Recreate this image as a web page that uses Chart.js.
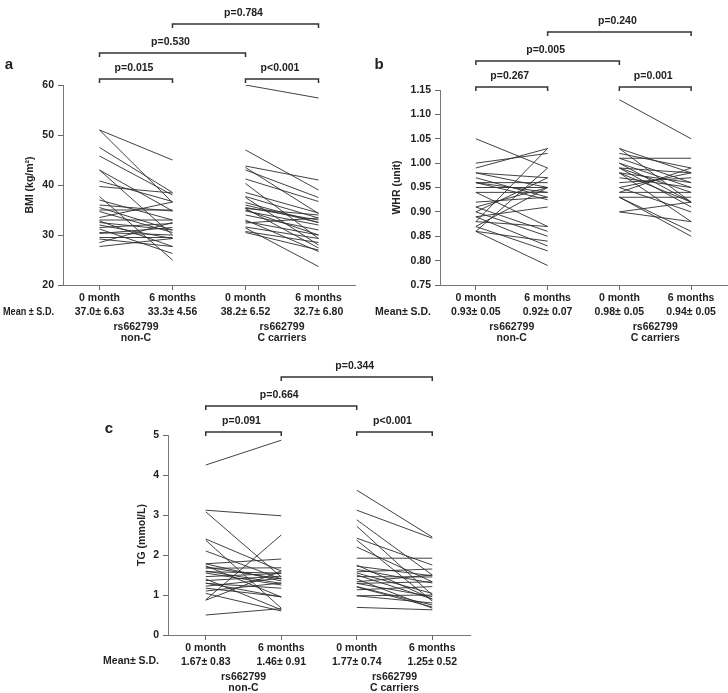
<!DOCTYPE html>
<html>
<head>
<meta charset="utf-8">
<script src="https://cdn.jsdelivr.net/npm/chart.js@4.4.1/dist/chart.umd.min.js"></script>
<style>
  html, body { margin: 0; padding: 0; background: #fff; }
  body { width: 728px; height: 693px; position: relative; overflow: hidden; }
  canvas { position: absolute; }
</style>
</head>
<body>
<canvas id="chartA" width="364" height="350" style="left:0px;top:0px"></canvas>
<canvas id="chartB" width="364" height="350" style="left:364px;top:0px"></canvas>
<canvas id="chartC" width="420" height="353" style="left:60px;top:340px"></canvas>
<script>
// x positions of the four columns
const xCols = [1, 2, 3, 4];
const timeLabels = ['0 month', '6 months', '0 month', '6 months'];
const groupLabels = [['rs662799', 'non-C'], ['rs662799', 'C carriers']];

// ---- panel a: BMI ----
const bmiTicks = [20, 30, 40, 50, 60];
const bmiMeans = ['37.0\u00b1 6.63', '33.3\u00b1 4.56', '38.2\u00b1 6.52', '32.7\u00b1 6.80'];
const bmiNonC0 = [51.0, 51.0, 47.5, 45.8, 43.0, 43.0, 40.8, 39.7, 37.7, 37.0, 36.0, 35.0, 34.7, 33.5,
                  33.0, 32.5, 32.0, 31.5, 31.2, 30.5, 30.3, 29.5, 29.2, 28.5, 27.7, 35.5, 32.8];
const bmiNonC6 = [45.0, 36.5, 38.5, 38.0, 34.8, 30.0, 36.7, 38.4, 25.0, 33.0, 34.8, 35.0, 30.5, 36.6,
                  33.0, 31.0, 29.3, 32.3, 26.3, 30.0, 31.5, 29.5, 27.7, 32.5, 29.3, 31.0, 27.7];
const bmiCar0 = [60.0, 47.0, 43.8, 43.5, 43.0, 41.2, 40.3, 37.7, 37.5, 36.0, 35.5, 35.3, 35.0, 35.3,
                 34.8, 34.0, 33.0, 32.7, 32.4, 31.6, 31.4, 30.7, 30.5, 36.5, 38.5];
const bmiCar6 = [57.4, 39.0, 41.0, 34.3, 37.5, 36.7, 29.3, 33.4, 28.0, 32.5, 33.0, 34.0, 30.0, 27.4,
                 32.0, 31.0, 26.7, 30.0, 33.4, 29.3, 23.7, 28.5, 27.0, 32.5, 34.4];

// ---- panel b: WHR ----
const whrTicks = [0.75, 0.80, 0.85, 0.90, 0.95, 1.00, 1.05, 1.10, 1.15];
const whrMeans = ['0.93\u00b1 0.05', '0.92\u00b1 0.07', '0.98\u00b1 0.05', '0.94\u00b1 0.05'];
const whrNonC0 = [1.05, 1.00, 0.99, 0.98, 0.98, 0.97, 0.96, 0.96, 0.96, 0.95, 0.94, 0.94, 0.91,
                  0.91, 0.90, 0.90, 0.89, 0.89, 0.88, 0.88, 0.87, 0.87, 0.86, 0.86, 0.86, 0.92];
const whrNonC6 = [0.99, 1.02, 1.03, 0.97, 0.95, 0.93, 0.96, 0.94, 0.925, 0.95, 0.94, 0.87, 0.95,
                  0.86, 0.85, 0.97, 0.91, 0.83, 1.03, 0.87, 0.95, 0.82, 0.79, 0.99, 0.84, 0.93];
const whrCar0 = [1.13, 1.03, 1.03, 1.02, 1.01, 1.01, 1.00, 1.00, 0.99, 0.99, 0.99, 0.98, 0.98,
                 0.98, 0.97, 0.95, 0.95, 0.94, 0.94, 0.93, 0.93, 0.93, 0.90, 0.90, 0.96];
const whrCar6 = [1.05, 0.98, 0.92, 0.99, 1.01, 0.96, 0.95, 0.92, 0.98, 0.94, 0.91, 0.96, 0.92,
                 0.88, 0.95, 0.98, 0.90, 0.94, 0.99, 0.93, 0.86, 0.85, 0.92, 0.88, 0.97];

// ---- panel c: TG ----
const tgTicks = [0, 1, 2, 3, 4, 5];
const tgMeans = ['1.67\u00b1 0.83', '1.46\u00b1 0.91', '1.77\u00b1 0.74', '1.25\u00b1 0.52'];
const tgNonC0 = [4.25, 3.12, 3.08, 2.40, 2.37, 2.10, 1.78, 1.78, 1.73, 1.70, 1.67, 1.58, 1.55,
                 1.46, 1.40, 1.36, 1.29, 1.22, 1.17, 1.10, 1.04, 0.88, 0.87, 0.50, 1.30, 1.60];
const tgNonC6 = [4.87, 2.98, 1.45, 1.60, 0.67, 1.40, 1.90, 1.35, 0.95, 1.40, 1.68, 1.55, 1.25,
                 1.54, 0.63, 1.47, 1.17, 1.42, 0.96, 1.30, 0.60, 2.50, 1.60, 0.66, 0.95, 1.29];
const tgCar0 = [3.62, 3.12, 2.88, 2.72, 2.42, 2.37, 2.20, 1.92, 1.75, 1.72, 1.64, 1.58, 1.55,
                1.46, 1.33, 1.29, 1.29, 1.21, 1.13, 0.98, 0.98, 0.69, 1.40, 1.50, 1.20];
const tgCar6 = [2.45, 2.42, 1.50, 1.00, 1.75, 0.85, 1.33, 1.92, 0.90, 1.48, 1.30, 1.65, 1.04,
                1.45, 1.50, 0.96, 1.33, 0.75, 1.21, 1.00, 0.80, 0.63, 0.67, 0.90, 0.70];

const FONT = '"Liberation Sans", Arial, Helvetica, sans-serif';
const TXT = '#222';
const FS = 10.5;

function pairs(before, after, x0) {
  return before.map((v, i) => ({
    data: [{x: x0, y: v}, {x: x0 + 1, y: after[i]}],
    borderColor: 'rgba(45,45,45,0.9)',
    borderWidth: 1,
    pointRadius: 0,
    fill: false
  }));
}

// brackets, p-values, group labels, panel letter and y title
const annot = {
  id: 'annot',
  afterDraw(chart, args, o) {
    const {ctx, chartArea: ca, scales: {x}} = chart;
    ctx.save();
    ctx.fillStyle = TXT;
    ctx.strokeStyle = '#333';
    ctx.lineWidth = 1.5;
    ctx.textAlign = 'center';
    ctx.textBaseline = 'middle';
    ctx.font = 'bold ' + FS + 'px ' + FONT;
    o.brackets.forEach(b => {
      const x1 = x.getPixelForValue(b.from), x2 = x.getPixelForValue(b.to);
      const yy = ca.top + b.dy;
      ctx.beginPath();
      ctx.moveTo(x1, yy + 4); ctx.lineTo(x1, yy); ctx.lineTo(x2, yy); ctx.lineTo(x2, yy + 4);
      ctx.stroke();
      ctx.fillText(b.text, (x1 + x2) / 2 - 2, yy - 11);
    });
    groupLabels.forEach((g, i) => {
      const cx = (x.getPixelForValue(xCols[i * 2]) + x.getPixelForValue(xCols[i * 2 + 1])) / 2;
      ctx.fillText(g[0], cx, ca.bottom + 42);
      ctx.fillText(g[1], cx, ca.bottom + 53.5);
    });
    ctx.textAlign = 'right';
    ctx.fillText(o.meanLabel, ca.left - 9, ca.bottom + o.meanDy, o.meanMaxW);
    ctx.textAlign = 'center';
    ctx.font = 'bold 15px ' + FONT;
    ctx.fillText(o.letter, o.letterPos[0], o.letterPos[1]);
    ctx.font = 'bold ' + FS + 'px ' + FONT;
    ctx.translate(ca.left + o.titleDx, (ca.top + ca.bottom) / 2);
    ctx.rotate(-Math.PI / 2);
    ctx.fillText(o.title, 0, 0);
    ctx.restore();
  }
};

function makePanel(id, p) {
  new Chart(document.getElementById(id), {
    type: 'line',
    data: {datasets: pairs(p.g0, p.g1, 1).concat(pairs(p.c0, p.c1, 3))},
    options: {
      responsive: false,
      animation: false,
      layout: {padding: {left: 0, right: p.padR, top: p.top, bottom: p.padB}},
      plugins: {
        legend: {display: false},
        tooltip: {enabled: false},
        annot: p.annot
      },
      scales: {
        x: {
          type: 'linear', min: 0.5, max: 4.5,
          afterBuildTicks: s => { s.ticks = xCols.map(v => ({value: v})); },
          afterFit: s => { s.height = p.xH; },
          grid: {drawOnChartArea: false, tickLength: 5, color: '#666'},
          border: {color: '#777', width: 1},
          ticks: {
            color: TXT, padding: 1,
            font: {family: FONT, size: FS, weight: 'bold', lineHeight: 1.33},
            callback: v => [timeLabels[v - 1], p.means[v - 1]]
          }
        },
        y: {
          min: p.yTicks[0], max: p.yTicks[p.yTicks.length - 1],
          afterBuildTicks: s => { s.ticks = p.yTicks.map(v => ({value: v})); },
          afterFit: s => { s.width = p.yW; },
          grid: {drawOnChartArea: false, tickLength: 5, color: '#666'},
          border: {color: '#777', width: 1},
          ticks: {
            color: TXT, padding: 4,
            font: {family: FONT, size: FS, weight: 'bold'},
            callback: v => v.toFixed(p.dec)
          }
        }
      }
    },
    plugins: [annot]
  });
}

makePanel('chartA', {
  g0: bmiNonC0, g1: bmiNonC6, c0: bmiCar0, c1: bmiCar6,
  yTicks: bmiTicks, dec: 0, means: bmiMeans,
  yW: 63, padR: 9, top: 85, padB: 5, xH: 60,
  annot: {
    brackets: [
      {from: 1, to: 2, dy: -6, text: 'p=0.015'},
      {from: 3, to: 4, dy: -6, text: 'p<0.001'},
      {from: 1, to: 3, dy: -32, text: 'p=0.530'},
      {from: 2, to: 4, dy: -61, text: 'p=0.784'}
    ],
    meanLabel: 'Mean \u00b1 S.D.', meanDy: 27, meanMaxW: 51,
    letter: 'a', letterPos: [9, 65],
    title: 'BMI (kg/m\u00b2)', titleDx: -33
  }
});

makePanel('chartB', {
  g0: whrNonC0, g1: whrNonC6, c0: whrCar0, c1: whrCar6,
  yTicks: whrTicks, dec: 2, means: whrMeans,
  yW: 76, padR: 1, top: 90, padB: 5, xH: 60,
  annot: {
    brackets: [
      {from: 1, to: 2, dy: -3, text: 'p=0.267'},
      {from: 3, to: 4, dy: -3, text: 'p=0.001'},
      {from: 1, to: 3, dy: -29, text: 'p=0.005'},
      {from: 2, to: 4, dy: -58, text: 'p=0.240'}
    ],
    meanLabel: 'Mean\u00b1 S.D.', meanDy: 27, meanMaxW: 60,
    letter: 'b', letterPos: [15, 65],
    title: 'WHR (unit)', titleDx: -43
  }
});

makePanel('chartC', {
  g0: tgNonC0, g1: tgNonC6, c0: tgCar0, c1: tgCar6,
  yTicks: tgTicks, dec: 0, means: tgMeans,
  yW: 108, padR: 10, top: 95, padB: 8, xH: 50,
  annot: {
    brackets: [
      {from: 1, to: 2, dy: -3, text: 'p=0.091'},
      {from: 3, to: 4, dy: -3, text: 'p<0.001'},
      {from: 1, to: 3, dy: -29, text: 'p=0.664'},
      {from: 2, to: 4, dy: -58, text: 'p=0.344'}
    ],
    meanLabel: 'Mean\u00b1 S.D.', meanDy: 26, meanMaxW: 60,
    letter: 'c', letterPos: [49, 89],
    title: 'TG (mmol/L)', titleDx: -26
  }
});
</script>
</body>
</html>
